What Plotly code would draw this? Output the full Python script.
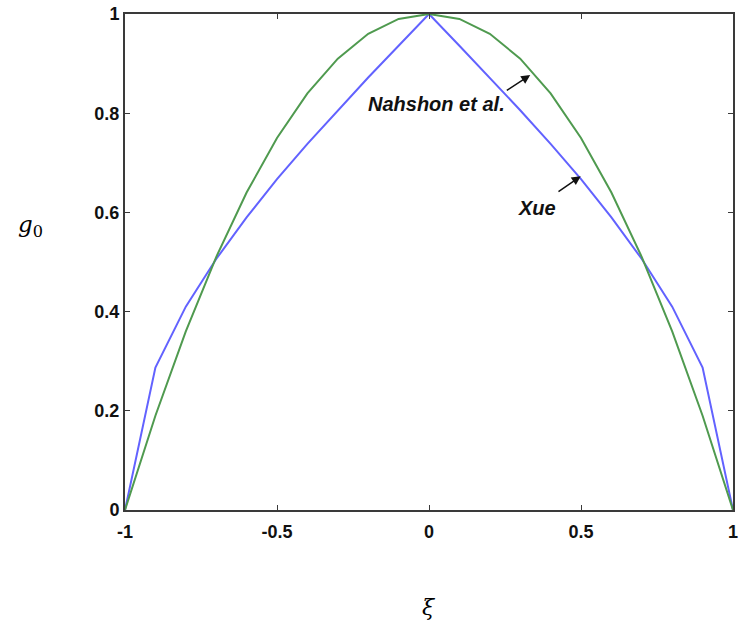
import plotly.graph_objects as go

# --- data ---
xi = [-1.0, -0.9, -0.8, -0.7, -0.6, -0.5, -0.4, -0.3, -0.2, -0.1, 0.0,
      0.1, 0.2, 0.3, 0.4, 0.5, 0.6, 0.7, 0.8, 0.9, 1.0]
g_nahshon = [0.0, 0.19, 0.36, 0.51, 0.64, 0.75, 0.84, 0.91, 0.96, 0.99, 1.0,
             0.99, 0.96, 0.91, 0.84, 0.75, 0.64, 0.51, 0.36, 0.19, 0.0]
g_xue = [0.0, 0.287, 0.410, 0.506, 0.590, 0.667, 0.738, 0.806, 0.872, 0.936, 1.0,
         0.936, 0.872, 0.806, 0.738, 0.667, 0.590, 0.506, 0.410, 0.287, 0.0]

x_ticks = [-1, -0.5, 0, 0.5, 1]
x_tick_labels = ["-1", "-0.5", "0", "0.5", "1"]
y_ticks = [0, 0.2, 0.4, 0.6, 0.8, 1]
y_tick_labels = ["0", "0.2", "0.4", "0.6", "0.8", "1"]

fig = go.Figure()
fig.add_trace(go.Scatter(x=xi, y=g_xue, mode="lines",
                         line=dict(color="#6262ff", width=2), name="Xue"))
fig.add_trace(go.Scatter(x=xi, y=g_nahshon, mode="lines",
                         line=dict(color="#4f9a4f", width=2), name="Nahshon et al."))

axis_common = dict(showline=True, linecolor="#3a3a3a", linewidth=2, mirror="ticks",
                   ticks="inside", ticklen=5, tickwidth=1, tickcolor="#3a3a3a",
                   showgrid=False, zeroline=False, ticklabeloverflow="allow",
                   tickfont=dict(family="Liberation Sans, Arial", size=18, color="#111111"))

fig.update_xaxes(range=[-1, 1], tickvals=x_ticks, ticklabelstandoff=4,
                 ticktext=["<b>%s</b>" % t for t in x_tick_labels], **axis_common)
fig.update_yaxes(range=[0, 1], tickvals=y_ticks,
                 ticktext=["<b>%s</b>" % t for t in y_tick_labels], **axis_common)

annots = [
    # label texts
    dict(x=0.026, y=0.818, xref="x", yref="y", text="<b><i>Nahshon et al.</i></b>",
         showarrow=False, xanchor="center", yanchor="middle",
         font=dict(family="Liberation Sans, Arial", size=20, color="#111")),
    dict(x=0.356, y=0.608, xref="x", yref="y", text="<b><i>Xue</i></b>",
         showarrow=False, xanchor="center", yanchor="middle",
         font=dict(family="Liberation Sans, Arial", size=20, color="#111")),
    # arrows
    dict(x=0.333, y=0.877, ax=0.251, ay=0.844, xref="x", yref="y", axref="x", ayref="y",
         text="", showarrow=True, arrowhead=2, arrowsize=1.2, arrowwidth=1.5, arrowcolor="#111"),
    dict(x=0.499, y=0.673, ax=0.421, ay=0.640, xref="x", yref="y", axref="x", ayref="y",
         text="", showarrow=True, arrowhead=2, arrowsize=1.2, arrowwidth=1.5, arrowcolor="#111"),
    # axis titles
    dict(x=-0.155, y=0.5726, xref="paper", yref="paper", text="<i>g</i><sub>0</sub>",
         showarrow=False, xanchor="center", yanchor="middle",
         font=dict(family="DejaVu Serif", size=23, color="#000")),
    dict(x=0.5008, y=-0.1956, xref="paper", yref="paper", text="<i>ξ</i>",
         showarrow=False, xanchor="center", yanchor="middle",
         font=dict(family="DejaVu Serif", size=22, color="#000")),
]

fig.update_layout(width=741, height=630, margin=dict(l=125, r=3, t=14, b=120),
                  paper_bgcolor="white", plot_bgcolor="white", showlegend=False,
                  annotations=annots)

fig.write_html("out.html")
